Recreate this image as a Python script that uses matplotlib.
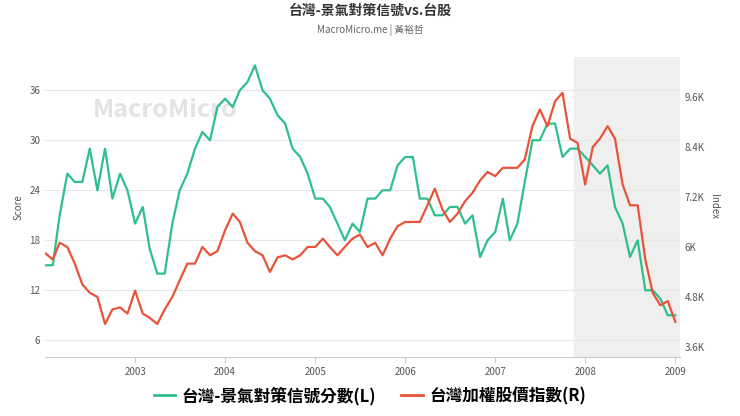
import matplotlib
matplotlib.use("Agg")
import matplotlib.pyplot as plt
import matplotlib.dates as mdates
import pandas as pd

plt.rcParams['font.family'] = ['Noto Sans CJK TC', 'DejaVu Sans']

dates = pd.date_range("2002-01-01", periods=85, freq="MS")
score = [15,15,21,26,25,25,29,24,29,23,26,24,
         20,22,17,14,14,20,24,26,29,31,30,34,
         35,34,36,37,39,36,35,33,32,29,28,26,
         23,23,22,20,18,20,19,23,23,24,24,27,
         28,28,23,23,21,21,22,22,20,21,16,18,
         19,23,18,20,25,30,30,32,32,28,29,29,
         28,27,26,27,22,20,16,18,12,12,11,9,9]
index_k = [5.85,5.7,6.1,6.0,5.6,5.1,4.9,4.8,4.15,4.5,4.55,4.4,
           4.95,4.4,4.3,4.15,4.5,4.8,5.2,5.6,5.6,6.0,5.8,5.9,
           6.4,6.8,6.6,6.1,5.9,5.8,5.4,5.75,5.8,5.7,5.8,6.0,
           6.0,6.2,6.0,5.8,6.0,6.2,6.3,6.0,6.1,5.8,6.2,6.5,
           6.6,6.6,6.6,7.0,7.4,6.9,6.6,6.8,7.1,7.3,7.6,7.8,
           7.7,7.9,7.9,7.9,8.1,8.9,9.3,8.9,9.5,9.7,8.6,8.5,
           7.5,8.4,8.6,8.9,8.6,7.5,7.0,7.0,5.7,4.9,4.6,4.7,4.2]
index_vals = [v*1000 for v in index_k]
years = [2003, 2004, 2005, 2006, 2007, 2008, 2009]

green = "#2fbf8f"; red = "#e8533a"
fig = plt.figure(figsize=(7.4, 4.16), dpi=100)
ax = fig.add_axes([0.061, 0.142, 0.858, 0.721])
ax2 = ax.twinx()
ax.axvspan(pd.Timestamp("2007-11-15"), pd.Timestamp("2009-02-01"), color="#efefef", zorder=0)
ax.plot(dates, score, color=green, lw=1.6)
ax2.plot(dates, index_vals, color=red, lw=1.6)
ax.set_xlim(pd.Timestamp("2002-01-01"), pd.Timestamp("2009-01-20"))
ax.set_ylim(4, 40); ax.set_yticks([6,12,18,24,30,36])
ax2.set_ylim(3.36e3, 10.56e3)
ax2.set_yticks([3600,4800,6000,7200,8400,9600])
ax2.set_yticklabels(["3.6K","4.8K","6K","7.2K","8.4K","9.6K"])
ax.set_xticks([pd.Timestamp(f"{y}-01-01") for y in years])
ax.set_xticklabels([str(y) for y in years])
ax.grid(axis="y", color="#e6e6e6", lw=0.8)
for a in (ax, ax2):
    for s in a.spines.values(): s.set_visible(False)
    a.tick_params(length=0, labelsize=7, colors="#555555")
ax.tick_params(axis="x", length=4, color="#cccccc")
ax.spines["bottom"].set_visible(True); ax.spines["bottom"].set_color("#cccccc")
ax.set_ylabel("Score", fontsize=7, color="#555555")
ax2.set_ylabel("Index", fontsize=7, color="#555555", rotation=270, labelpad=10)
ax.text(0.075, 0.8, "MacroMicro", transform=ax.transAxes, fontsize=18, color="#e3e3e3", fontweight="bold", zorder=0)
fig.text(0.5, 0.965, "台灣-景氣對策信號vs.台股", ha="center", fontsize=10, fontweight="bold", color="#333333")
fig.text(0.5, 0.92, "MacroMicro.me | 黃裕哲", ha="center", fontsize=7, color="#666666")
from matplotlib.lines import Line2D
h = [Line2D([], [], color=green, lw=2), Line2D([], [], color=red, lw=2)]
fig.legend(h, ["台灣-景氣對策信號分數(L)", "台灣加權股價指數(R)"], loc="lower center",
           bbox_to_anchor=(0.5, -0.01), ncol=2, frameon=False, fontsize=12, handlelength=1.3,
           columnspacing=1.5, handletextpad=0.4, prop={'weight': 'bold', 'size': 12})
fig.savefig("out.png", dpi=100)
